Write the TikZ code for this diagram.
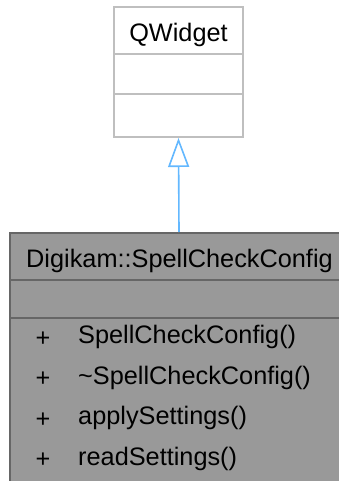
\documentclass[tikz,border=0pt]{standalone}
\usepackage{fontspec}
\setmainfont{Liberation Sans}
\usetikzlibrary{arrows.meta}
\definecolor{topborder}{HTML}{BFBFBF}
\definecolor{botfill}{HTML}{999999}
\definecolor{botborder}{HTML}{666666}
\definecolor{arrowblue}{HTML}{63B8FF}
\tikzset{
  basebox/.style={draw=topborder, fill=white, line width=2pt, minimum width=129pt, minimum height=130pt, inner sep=0pt},
  subbox/.style={draw=botborder, fill=botfill, line width=2pt, minimum width=338pt, minimum height=280pt, inner sep=0pt},
  lbl/.style={font=\fontsize{25.3}{30}\selectfont, inner sep=0pt, anchor=base, text=black},
  mem/.style={lbl, anchor=base west},
  plus/.style={font=\fontsize{25.3}{30}\selectfont, inner sep=0pt, anchor=center},
  inherit/.style={draw=arrowblue, line width=1.6pt, -{Triangle[open, length=29pt, width=21pt, fill=white]}}
}
\begin{document}
\begin{tikzpicture}[x=1pt,y=-1pt]
\useasboundingbox (0,0) rectangle (338,481);
% base class
\node[basebox] (base) at (178.5,72) {};
\draw[topborder, line width=2pt] (114,54) -- (243,54);
\draw[topborder, line width=2pt] (114,94) -- (243,94);
\node[lbl] (basename) at (178.5,42) {QWidget};
% derived class
\node[subbox] (sub) at (179,373) {};
\draw[botborder, line width=2pt] (10,280) -- (348,280);
\draw[botborder, line width=2pt] (10,318) -- (348,318);
\node[lbl] (subname) at (179.5,267) {Digikam::SpellCheckConfig};
\node[plus] (p1) at (43,339) {+};
\node[mem] (m1) at (78,343.5) {SpellCheckConfig()};
\node[plus] (p2) at (43,379.5) {+};
\node[mem] (m2) at (78,384) {\char"007E SpellCheckConfig()};
\node[plus] (p3) at (43,420) {+};
\node[mem] (m3) at (78,424.5) {applySettings()};
\node[plus] (p4) at (43,460.5) {+};
\node[mem] (m4) at (78,465) {readSettings()};
% inheritance
\draw[inherit] (sub.north) -- (base.south);
\end{tikzpicture}
\end{document}
